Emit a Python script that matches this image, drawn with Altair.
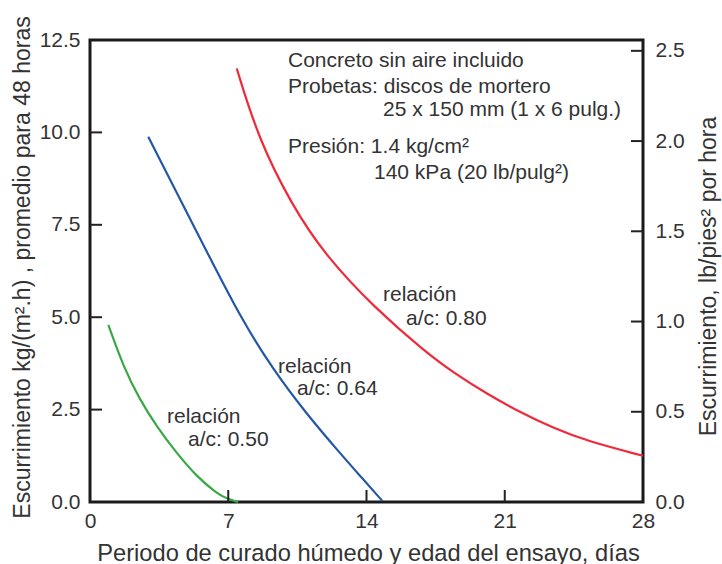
import altair as alt
import pandas as pd

# ---- data ----
green_x = [0.93, 1.69, 2.53, 3.38, 4.39, 5.40, 6.41, 6.92, 7.5]
green_y = [4.79, 3.66, 2.76, 2.04, 1.32, 0.69, 0.24, 0.09, 0.0]
blue_x = [2.95, 4.22, 5.91, 7.59, 9.28, 10.97, 12.66, 13.72, 14.8]
blue_y = [9.88, 8.55, 6.78, 5.02, 3.57, 2.38, 1.32, 0.68, 0.03]
red_x = [7.43, 8.52, 10.21, 11.90, 14.43, 16.96, 18.4, 20.08, 21.77, 23.46, 25.15, 28.0]
red_y = [11.73, 9.84, 8.04, 6.68, 5.24, 4.07, 3.50, 2.93, 2.43, 2.00, 1.65, 1.25]

series_names = ["a/c 0.50", "a/c 0.64", "a/c 0.80"]
series_colors = ["#3aa844", "#2458a6", "#ee2a3b"]

x_ticks = [0, 7, 14, 21, 28]
left_ticks = [0, 2.5, 5, 7.5, 10, 12.5]
right_ticks = [0, 0.5, 1.0, 1.5, 2.0, 2.5]
x_inner_ticks = [7, 14, 21]
left_inner_ticks = [2.5, 5, 7.5, 10]
right_inner_ticks = [0.5, 1.0, 1.5, 2.0, 2.5]

x_title = "Periodo de curado húmedo y edad del ensayo, días"
left_title = "Escurrimiento kg/(m².h) , promedio para 48 horas"
right_title = "Escurrimiento, lb/pies² por hora"

note_lines = [
    "Concreto sin aire incluido",
    "Probetas: discos de mortero",
    "25 x 150 mm (1 x 6 pulg.)",
    "Presión: 1.4 kg/cm²",
    "140 kPa (20 lb/pulg²)",
]
curve_labels = [
    ("relación", "a/c: 0.50"),
    ("relación", "a/c: 0.64"),
    ("relación", "a/c: 0.80"),
]

# ---- build table ----
rows = []
for name, xs, ys in zip(series_names, [green_x, blue_x, red_x], [green_y, blue_y, red_y]):
    for xv, yv in zip(xs, ys):
        rows.append({"serie": name, "x": xv, "y": yv})
df = pd.DataFrame(rows)

FONT = "Liberation Sans"
TXT = "#333333"
W, H = 553, 462

x_scale = alt.Scale(domain=[0, 28], nice=False, zero=False)
yl_scale = alt.Scale(domain=[0, 12.5], nice=False)
yr_scale = alt.Scale(domain=[0, 2.56], nice=False)

common = dict(grid=False, domain=False, ticks=False, labelFlush=False,
              labelFont=FONT, labelFontSize=21, labelColor=TXT,
              titleFont=FONT, titleColor=TXT, titleFontWeight="normal")

x_axis = alt.Axis(values=x_ticks, format="d", title=x_title, labelPadding=8,
                  titleFontSize=23.7, titleX=278, titleY=51, titleAlign="center",
                  titleBaseline="middle", **common)
yl_axis = alt.Axis(values=left_ticks, format=".1f", title=left_title, labelPadding=10,
                   titleFontSize=23, titleAngle=270, titleX=-68, titleY=227,
                   titleAlign="center", titleBaseline="middle", **common)
yr_axis = alt.Axis(values=right_ticks, format=".1f", title=right_title, orient="right",
                   labelPadding=12, titleFontSize=23, titleAngle=270, titleX=65, titleY=236,
                   titleAlign="center", titleBaseline="middle", **common)

lines = alt.Chart(df).mark_line(strokeWidth=2.2, interpolate="basis").encode(
    x=alt.X("x:Q", scale=x_scale, axis=x_axis),
    y=alt.Y("y:Q", scale=yl_scale, axis=yl_axis),
    color=alt.Color("serie:N", scale=alt.Scale(domain=series_names, range=series_colors), legend=None),
    detail="serie:N",
)

lt_df = pd.DataFrame({"y": left_inner_ticks})
left_tick_marks = alt.Chart(lt_df).mark_rule(color="#222222", strokeWidth=2).encode(
    y=alt.Y("y:Q", scale=yl_scale, axis=yl_axis),
    x=alt.value(0), x2=alt.value(12),
)

xt_df = pd.DataFrame({"x": x_inner_ticks})
x_tick_marks = alt.Chart(xt_df).mark_rule(color="#222222", strokeWidth=2).encode(
    x=alt.X("x:Q", scale=x_scale, axis=x_axis),
    y=alt.value(H - 12), y2=alt.value(H),
)

def label(text, px, py):
    return alt.Chart(pd.DataFrame({"t": [text]})).mark_text(
        align="left", baseline="middle", font=FONT, fontSize=21, color=TXT
    ).encode(text="t:N", x=alt.value(px), y=alt.value(py))

texts = [
    label(note_lines[0], 198, 21),
    label(note_lines[1], 198, 47),
    label(note_lines[2], 293, 70),
    label(note_lines[3], 198, 107),
    label(note_lines[4], 284, 133),
    label(curve_labels[0][0], 77, 377),
    label(curve_labels[0][1], 98, 400),
    label(curve_labels[1][0], 188, 327),
    label(curve_labels[1][1], 207, 349),
    label(curve_labels[2][0], 293, 255),
    label(curve_labels[2][1], 316, 279),
]

left_layer = alt.layer(lines, left_tick_marks, x_tick_marks, *texts)

rt_df = pd.DataFrame({"r": right_inner_ticks})
right_layer = alt.Chart(rt_df).mark_rule(color="#222222", strokeWidth=2).encode(
    y=alt.Y("r:Q", scale=yr_scale, axis=yr_axis),
    x=alt.value(W - 12), x2=alt.value(W),
)

chart = alt.layer(left_layer, right_layer).resolve_scale(y="independent").properties(
    width=W, height=H,
    background="white",
    autosize=alt.AutoSizeParams(type="none"),
    padding={"left": 90, "top": 40, "right": 79, "bottom": 62},
).configure_view(
    stroke="#1a1a1a", strokeWidth=3
)

chart.save("out.html", embed_options={"renderer": "svg", "actions": False})
